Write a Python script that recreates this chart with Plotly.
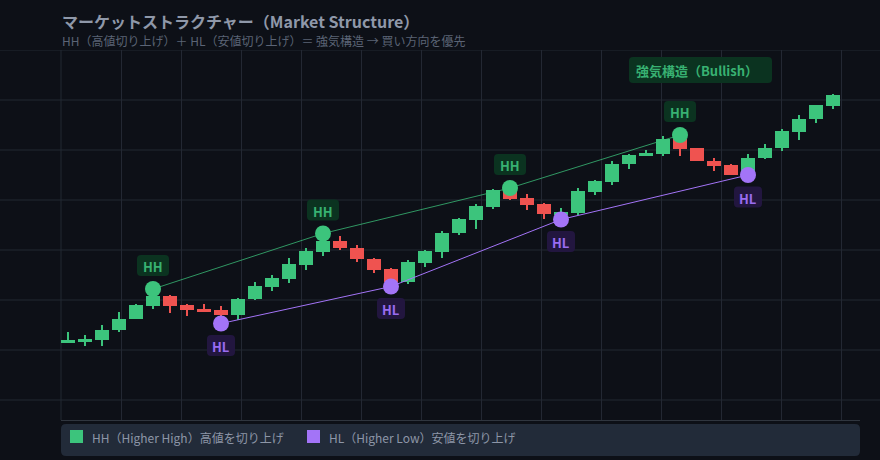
import plotly.graph_objects as go

# ---------------- data ----------------
opens = [111.5, 111.7, 112.0, 114.0, 116.3, 118.8, 120.8, 119.1, 118.3, 118.0,
         117.0, 120.2, 122.7, 124.2, 127.1, 129.6, 131.8, 130.5, 128.3, 126.3,
         123.7, 127.5, 129.7, 133.5, 136.0, 138.7, 141.9, 140.5, 139.2, 137.0,
         137.4, 141.6, 143.7, 147.3, 148.9, 149.3, 152.2, 150.4, 147.9, 147.0,
         145.5, 148.5, 150.5, 153.7, 156.3, 158.8]
closes = [112.0, 112.2, 114.1, 116.3, 119.0, 120.9, 118.9, 118.0, 117.7, 117.0,
          120.3, 122.8, 124.4, 127.2, 129.8, 131.9, 130.5, 128.2, 126.0, 123.7,
          127.6, 129.8, 133.5, 136.2, 138.8, 142.1, 140.3, 139.0, 137.3, 137.7,
          141.8, 143.8, 147.3, 149.0, 149.5, 152.3, 150.3, 147.9, 146.9, 145.1,
          148.5, 150.5, 153.8, 156.3, 159.0, 161.0]
highs = [113.6, 113.0, 115.0, 117.6, 119.2, 122.2, 121.0, 119.3, 119.2, 118.8,
         120.4, 123.6, 125.0, 128.5, 130.4, 133.3, 132.8, 131.0, 128.5, 126.5,
         128.0, 130.0, 133.8, 136.5, 139.3, 142.2, 142.4, 141.3, 139.5, 138.5,
         142.5, 144.1, 147.9, 149.3, 150.1, 152.8, 153.0, 150.5, 148.4, 147.3,
         149.2, 151.3, 154.2, 157.0, 159.0, 161.2]
lows = [111.4, 110.8, 110.8, 113.6, 116.2, 118.3, 117.5, 116.9, 117.6, 115.3,
        116.0, 120.0, 121.9, 123.5, 126.0, 128.8, 130.0, 127.7, 125.5, 122.7,
        123.2, 126.7, 128.5, 133.0, 134.2, 138.3, 140.1, 138.0, 136.3, 136.1,
        137.0, 141.0, 143.1, 146.3, 148.9, 148.9, 148.9, 147.8, 145.9, 145.1,
        145.0, 148.2, 149.9, 152.1, 155.5, 158.2]
hh_idx = [5, 15, 26, 36]
hl_idx = [9, 19, 29, 40]

title_text = "マーケットストラクチャー（Market Structure）"
subtitle_text = "HH（高値切り上げ）＋ HL（安値切り上げ）＝ 強気構造 → 買い方向を優先"
badge_text = "強気構造（Bullish）"
legend_items = ["HH（Higher High）高値を切り上げ", "HL（Higher Low）安値を切り上げ"]

# ---------------- styles ----------------
BG = "#0d1017"
GRID = "#232833"
GREEN = "#3cc47c"
LABEL_GREEN = "#38b172"
RED = "#ef5350"
PURPLE = "#a374f7"
LABEL_PURPLE = "#9a6cf0"
FONT = "Noto Sans CJK JP"

n = len(opens)
xs = list(range(n))
hh_val = [highs[i] for i in hh_idx]
hl_val = [lows[i] for i in hl_idx]

body_base = [min(o, c) for o, c in zip(opens, closes)]
body_h = [max(abs(c - o), 0.3) for o, c in zip(opens, closes)]
colors = [GREEN if c >= o else RED for o, c in zip(opens, closes)]

fig = go.Figure()
fig.add_trace(go.Bar(x=xs, base=lows, y=[h - l for h, l in zip(highs, lows)],
                     width=0.07, marker=dict(color=colors, line=dict(width=0)),
                     hoverinfo="skip", showlegend=False))
fig.add_trace(go.Bar(x=xs, base=body_base, y=body_h, width=0.88,
                     marker=dict(color=colors, line=dict(width=0)),
                     hoverinfo="skip", showlegend=False))
fig.add_trace(go.Scatter(x=hh_idx, y=hh_val, mode="lines",
                         line=dict(color="rgba(60,196,124,0.75)", width=1), showlegend=False))
fig.add_trace(go.Scatter(x=hl_idx, y=hl_val, mode="lines",
                         line=dict(color=PURPLE, width=1), showlegend=False))
fig.add_trace(go.Scatter(x=hh_idx, y=hh_val, mode="markers",
                         marker=dict(color=GREEN, size=16), showlegend=False))
fig.add_trace(go.Scatter(x=hl_idx, y=hl_val, mode="markers",
                         marker=dict(color=PURPLE, size=16), showlegend=False))


def rrect(x0, y0, x1, y1, r):
    return (f"M{x0 + r},{y0} L{x1 - r},{y0} Q{x1},{y0} {x1},{y0 + r} "
            f"L{x1},{y1 - r} Q{x1},{y1} {x1 - r},{y1} L{x0 + r},{y1} "
            f"Q{x0},{y1} {x0},{y1 - r} L{x0},{y0 + r} Q{x0},{y0} {x0 + r},{y0} Z")


shapes = []
annotations = []
# label boxes
for i, v in zip(hh_idx, hh_val):
    shapes.append(dict(type="path", xref="x", yref="y", xsizemode="pixel", ysizemode="pixel",
                       xanchor=i, yanchor=v, path=rrect(-16, 13, 16, 34, 4),
                       fillcolor="#0b3320", line=dict(width=0), layer="above"))
    annotations.append(dict(x=i, y=v, xref="x", yref="y", text="<b>HH</b>", showarrow=False,
                            xanchor="center", yanchor="middle",
                            yshift=22.5, font=dict(family=FONT, size=13, color=LABEL_GREEN)))
for i, v in zip(hl_idx, hl_val):
    shapes.append(dict(type="path", xref="x", yref="y", xsizemode="pixel", ysizemode="pixel",
                       xanchor=i, yanchor=v, path=rrect(-14, -32.5, 14, -11.5, 4),
                       fillcolor="#22163f", line=dict(width=0), layer="above"))
    annotations.append(dict(x=i, y=v, xref="x", yref="y", text="<b>HL</b>", showarrow=False,
                            xanchor="center", yanchor="middle",
                            yshift=-23, font=dict(family=FONT, size=13, color=LABEL_PURPLE)))

# plot area geometry in pixels
L_PX, R_PX, T_PX, B_PX = 61, 860, 50, 420
PW, PH = R_PX - L_PX, B_PX - T_PX


def px(xp):
    return (xp - L_PX) / PW


def py(yp):
    return (B_PX - yp) / PH


# horizontal grid lines spanning full width
for yv in range(100, 171, 10):
    shapes.append(dict(type="line", xref="paper", yref="y", x0=px(0), x1=px(880), y0=yv, y1=yv,
                       line=dict(color=GRID, width=1), layer="below"))
shapes.append(dict(type="line", xref="paper", yref="paper", x0=0, x1=0, y0=0, y1=1,
                   line=dict(color=GRID, width=1), layer="below"))

# bullish badge
shapes.append(dict(type="path", xref="paper", yref="paper", xsizemode="pixel", ysizemode="pixel",
                   xanchor=px(700.5), yanchor=py(70), path=rrect(-71.5, -13, 71.5, 13, 4),
                   fillcolor="#0b3320", line=dict(width=0)))
annotations.append(dict(x=px(697), y=py(70), xref="paper", yref="paper", text="<b>" + badge_text + "</b>",
                        xanchor="center", yanchor="middle",
                        showarrow=False, font=dict(family=FONT, size=13, color=LABEL_GREEN)))

# title & subtitle
annotations.append(dict(x=px(60), y=py(20.5), xref="paper", yref="paper", xanchor="left", yanchor="middle",
                        text="<b>" + title_text + "</b>", showarrow=False,
                        font=dict(family=FONT, size=16, color="#8f98a9")))
annotations.append(dict(x=px(60), y=py(40), xref="paper", yref="paper", xanchor="left", yanchor="middle",
                        text=subtitle_text, showarrow=False,
                        font=dict(family=FONT, size=12, color="#5b6475")))

# legend box
shapes.append(dict(type="path", xref="paper", yref="paper", xsizemode="pixel", ysizemode="pixel",
                   xanchor=px(460.5), yanchor=py(440), path=rrect(-399.5, -16, 399.5, 16, 5),
                   fillcolor="#222b39", line=dict(width=0)))
for (sx, tx), txt, col in zip([(70, 90), (307, 327)], legend_items, [GREEN, PURPLE]):
    shapes.append(dict(type="rect", xref="paper", yref="paper", x0=px(sx), x1=px(sx + 13),
                       y0=py(430), y1=py(443), fillcolor=col, line=dict(width=0)))
    annotations.append(dict(x=px(tx), y=py(437), xref="paper", yref="paper", xanchor="left",
                            yanchor="middle", text=txt, showarrow=False,
                            font=dict(family=FONT, size=12, color="#8d96a7")))

x0 = -7 / 17
fig.update_layout(
    width=880, height=460, autosize=False,
    margin=dict(l=L_PX, r=880 - R_PX, t=T_PX, b=460 - B_PX),
    paper_bgcolor=BG, plot_bgcolor=BG,
    barmode="overlay", bargap=0,
    showlegend=False,
    shapes=shapes, annotations=annotations,
    xaxis=dict(range=[x0, x0 + PW / 17], showticklabels=False, ticks="",
               showgrid=True, gridcolor=GRID, gridwidth=1, tick0=x0, dtick=60 / 17,
               zeroline=False, showline=True, linecolor="#30363f", linewidth=1, fixedrange=True),
    yaxis=dict(range=[96, 170], showticklabels=False, ticks="", showgrid=False,
               zeroline=False, showline=False, fixedrange=True),
    font=dict(family=FONT),
)

fig.write_html("out.html", config={"displayModeBar": False})
